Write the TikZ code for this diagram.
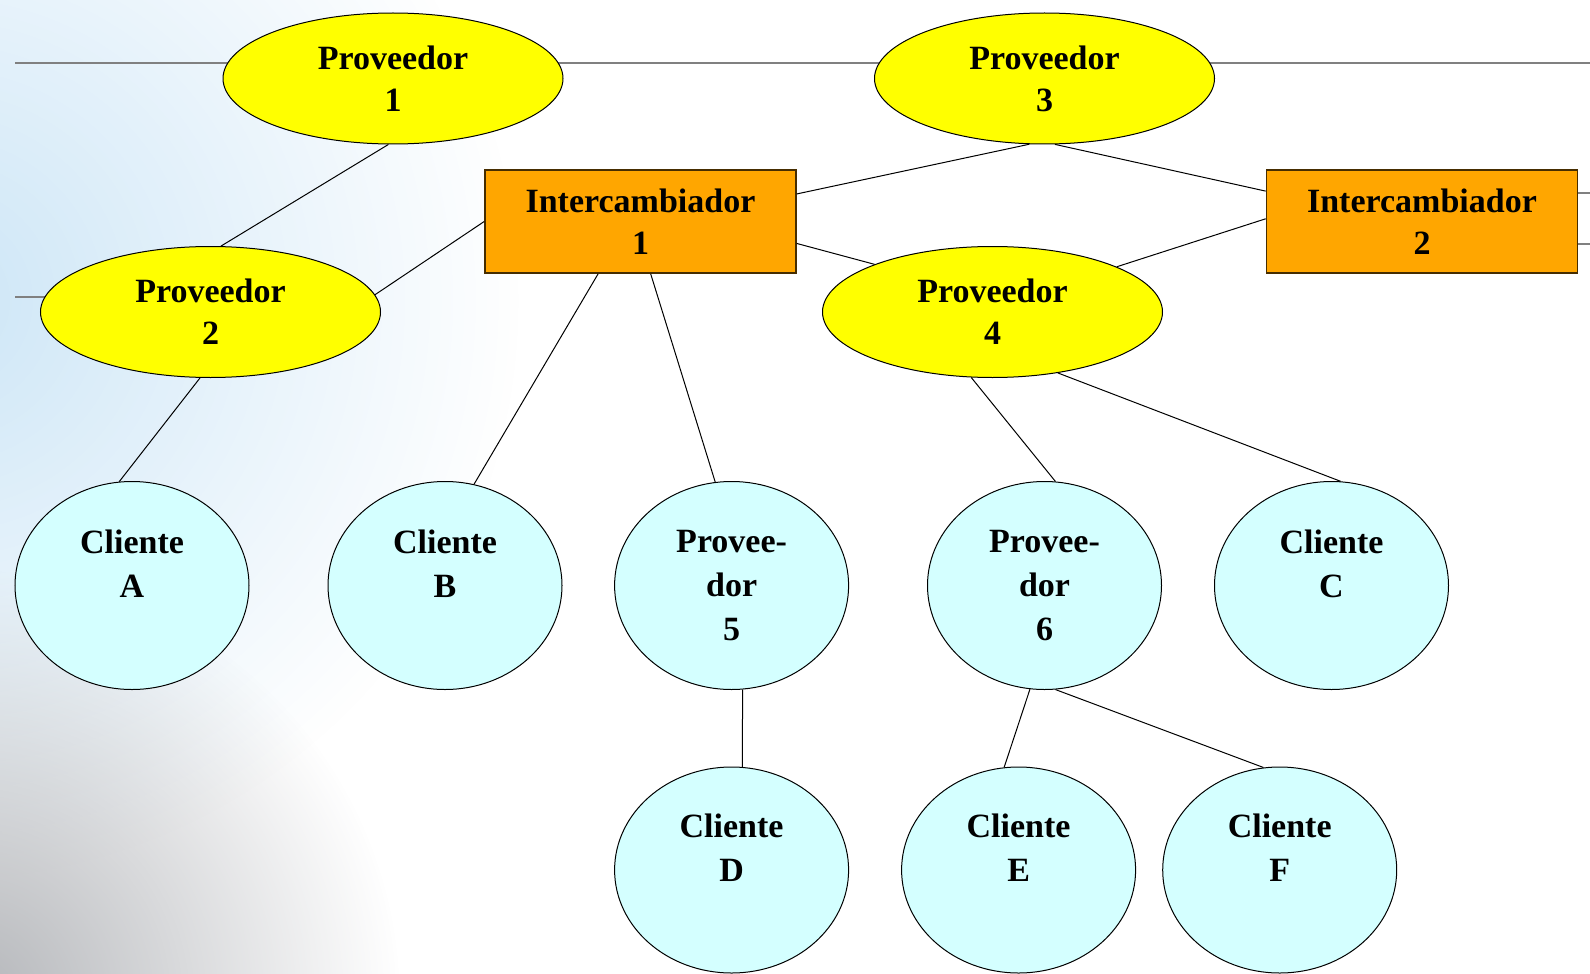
\documentclass[tikz,border=0pt]{standalone}
\usepackage{fontspec}
\setmainfont{Liberation Serif}
\usetikzlibrary{shapes.geometric,backgrounds,fadings}
\definecolor{provyellow}{RGB}{255,255,0}
\definecolor{interorange}{RGB}{255,166,0}
\definecolor{interrim}{RGB}{70,45,0}
\definecolor{clicyan}{RGB}{212,255,255}
\definecolor{bgblue}{RGB}{205,230,247}
\definecolor{bggray}{RGB}{180,182,186}
\definecolor{wiregray}{RGB}{128,128,128}
\tikzfading[name=softglow, inner color=transparent!0, outer color=transparent!100]
\begin{document}
\begin{tikzpicture}[x=0.5pt, y=-0.5pt,
		provnode/.style={ellipse, draw, fill=provyellow, line width=0.5pt, minimum width=170pt, minimum height=65.5pt, inner sep=0pt, align=center, font=\bfseries\fontsize{17}{21}\selectfont},
		internode/.style={rectangle, draw=interrim, fill=interorange, line width=0.8pt, minimum width=155.5pt, minimum height=51.5pt, inner sep=0pt, align=center, font=\bfseries\fontsize{17}{21}\selectfont},
		clinode/.style={ellipse, draw, fill=clicyan, line width=0.5pt, minimum width=117pt, minimum height=104pt, inner sep=0pt, align=center, font=\bfseries\fontsize{17}{22}\selectfont},
		wire/.style={draw, line width=0.5pt},
		trunk/.style={draw=wiregray, line width=0.9pt}]
	\useasboundingbox (0,0) rectangle (1590,974);

	\node[provnode] (prov1) at (393,78.5) {Proveedor\\1};
	\node[provnode] (prov3) at (1044.5,78.5) {Proveedor\\3};
	\node[provnode] (prov2) at (210.5,312) {Proveedor\\2};
	\node[provnode] (prov4) at (992.5,312) {Proveedor\\4};
	\node[internode] (inter1) at (640.5,221.5) {Intercambiador\\1};
	\node[internode] (inter2) at (1422,221.5) {Intercambiador\\2};
	\node[clinode] (cliA) at (132,585.5) {Cliente\\A\\~};
	\node[clinode] (cliB) at (445,585.5) {Cliente\\B\\~};
	\node[clinode] (prov5) at (731.6,585.5) {Provee-\\dor\\5};
	\node[clinode] (prov6) at (1044.5,585.5) {Provee-\\dor\\6};
	\node[clinode] (cliC) at (1331.5,585.5) {Cliente\\C\\~};
	\node[clinode, minimum height=103pt] (cliD) at (731.6,870) {Cliente\\D\\~};
	\node[clinode, minimum height=103pt] (cliE) at (1018.6,870) {Cliente\\E\\~};
	\node[clinode, minimum height=103pt] (cliF) at (1279.7,870) {Cliente\\F\\~};

	\coordinate (leftend1) at (15,63);
	\coordinate (rightend1) at (1590,63);
	\coordinate (leftend2) at (15,297);
	\coordinate (rightend2) at (1590,193);
	\coordinate (rightend3) at (1590,244);

	\begin{scope}[on background layer]
		\fill[white] (0,0) rectangle (1590,974);
		\clip (0,0) rectangle (1590,974);
		\fill[bgblue, path fading=softglow] (-60,300) circle (290pt);
		\fill[bggray, path fading=softglow] (-30,1000) circle (215pt);
		\draw[trunk] (leftend1) -- (leftend1 -| prov1.center);
		\draw[trunk] (prov1.center |- leftend1) -- (prov3.center |- leftend1);
		\draw[trunk] (prov3.center |- rightend1) -- (rightend1);
		\draw[trunk] (leftend2) -- (leftend2 -| prov2.center);
		\draw[trunk] (inter2.center |- rightend2) -- (rightend2);
		\draw[trunk] (inter2.center |- rightend3) -- (rightend3);
	\end{scope}

	\draw[wire] (prov1.-94) -- (prov2.81);
	\draw[wire] (inter1.west) -- (prov2.6);
	\draw[wire] (inter1.10.4) -- (prov3.-103);
	\draw[wire] (prov3.-81) -- (inter2.169.6);
	\draw[wire] (inter1.-8.2) -- (prov4.158);
	\draw[wire] (inter2.179) -- (prov4.20);
	\draw[wire] (prov2.-99) -- (cliA.97);
	\draw[wire] (inter1.-129.5) -- (cliB.74);
	\draw[wire] (inter1.-79.5) -- (prov5.99);
	\draw[wire] (prov4.-108) -- (prov6.84);
	\draw[wire] (prov4.-43) -- (cliC.85);
	\draw[wire] (prov5.-84) -- (cliD.84);
	\draw[wire] (prov6.-98) -- (cliE.98);
	\draw[wire] (prov6.-84) -- (cliF.99);
\end{tikzpicture}
\end{document}
